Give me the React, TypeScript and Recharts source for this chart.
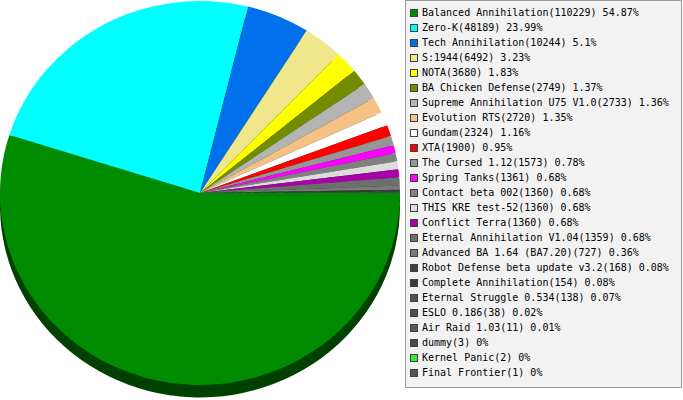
import React from 'react';
import { PieChart, Pie, Cell } from 'recharts';

const names = [
  'Balanced Annihilation', 'Zero-K', 'Tech Annihilation', 'S:1944', 'NOTA',
  'BA Chicken Defense', 'Supreme Annihilation U75 V1.0', 'Evolution RTS', 'Gundam', 'XTA',
  'The Cursed 1.12', 'Spring Tanks', 'Contact beta 002', 'THIS KRE test-52', 'Conflict Terra',
  'Eternal Annihilation V1.04', 'Advanced BA 1.64 (BA7.20)', 'Robot Defense beta update v3.2',
  'Complete Annihilation', 'Eternal Struggle 0.534', 'ESLO 0.186', 'Air Raid 1.03', 'dummy',
  'Kernel Panic', 'Final Frontier',
];
const counts = [
  110229, 48189, 10244, 6492, 3680, 2749, 2733, 2720, 2324, 1900, 1573, 1361, 1360, 1360, 1360,
  1359, 727, 168, 154, 138, 38, 11, 3, 2, 1,
];
const percents = [
  '54.87', '23.99', '5.1', '3.23', '1.83', '1.37', '1.36', '1.35', '1.16', '0.95', '0.78', '0.68',
  '0.68', '0.68', '0.68', '0.68', '0.36', '0.08', '0.08', '0.07', '0.02', '0.01', '0', '0', '0',
];
const colors = [
  '#008c00', '#00ffff', '#0070ec', '#f0e68c', '#ffff00', '#748c00', '#b4b4b4', '#f7c184',
  '#ffffff', '#ff0000', '#969696', '#ff00ff', '#808080', '#dcdcdc', '#aa00aa', '#6e6e6e',
  '#7a7a7a', '#404040', '#3c3c3c', '#505050', '#505050', '#5a5a5a', '#484848', '#33ee33', '#555555',
];

const data = names.map((name, i) => ({ name, value: counts[i] }));

const App: React.FC = () => {
  return (
    <div style={{ position: 'absolute', left: 0, top: 0, width: 683, height: 400, background: '#fff' }}>
      {/* pie, squashed a little to get the 3d look */}
      <div style={{ position: 'absolute', left: 0, top: 0, transform: 'scaleY(0.96)', transformOrigin: '0 0' }}>
        <PieChart width={400} height={420} margin={{ top: 0, right: 0, bottom: 0, left: 0 }}>
          <Pie
            data={data}
            dataKey="value"
            cx={200}
            cy={214}
            outerRadius={200}
            startAngle={0}
            endAngle={-360}
            stroke="none"
            isAnimationActive={false}
          >
            {data.map((entry, index) => (
              <Cell key={`shadow-${index}`} fill="#004000" />
            ))}
          </Pie>
          <Pie
            data={data}
            dataKey="value"
            cx={200}
            cy={201}
            outerRadius={200}
            startAngle={0}
            endAngle={-360}
            stroke="none"
            isAnimationActive={false}
          >
            {data.map((entry, index) => (
              <Cell key={`cell-${index}`} fill={colors[index]} />
            ))}
          </Pie>
        </PieChart>
      </div>

      {/* legend box */}
      <div
        style={{
          position: 'absolute',
          left: 405,
          top: 0,
          width: 275,
          height: 382,
          background: '#f2f2f2',
          border: '1px solid #999',
          paddingTop: 4,
          fontFamily: '"DejaVu Sans Mono", monospace',
          fontSize: 10,
          color: '#000',
        }}
      >
        {names.map((name, i) => (
          <div key={name} style={{ height: 15, display: 'flex', alignItems: 'center', whiteSpace: 'nowrap' }}>
            <span
              style={{
                display: 'inline-block',
                width: 6,
                height: 6,
                marginLeft: 4,
                marginRight: 4,
                background: colors[i],
                border: '1px solid #404040',
              }}
            />
            <span>{`${name}(${counts[i]}) ${percents[i]}%`}</span>
          </div>
        ))}
      </div>
    </div>
  );
};

export default App;
